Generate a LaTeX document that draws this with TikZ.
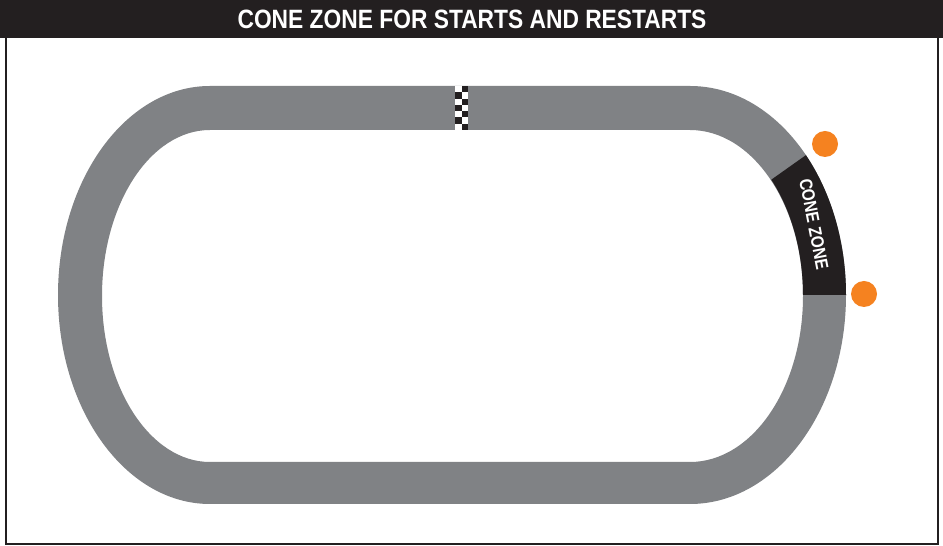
\documentclass[tikz,border=0pt]{standalone}
\usepackage{fontspec}
\setmainfont{Liberation Sans}
\newfontfamily\condfont[FakeStretch=0.86]{Liberation Sans}
\usetikzlibrary{calc}
\definecolor{trackgray}{HTML}{808285}
\definecolor{inkblack}{HTML}{231F20}
\definecolor{coneorange}{HTML}{F58220}
\tikzset{
  framestyle/.style={draw=inkblack,line width=2pt},
  conedot/.style={circle,fill=coneorange,minimum size=26pt,inner sep=0pt},
  titletext/.style={text=white,font=\condfont\bfseries\fontsize{26.5}{28}\selectfont,inner sep=0pt},
  zonetext/.style={text=white,font=\condfont\bfseries\fontsize{18}{20}\selectfont,inner sep=0pt},
  chk/.style={fill=inkblack}
}
\begin{document}
\begin{tikzpicture}[x=1pt,y=1pt]
\useasboundingbox (0,0) rectangle (943,546);
\fill[white] (0,0) rectangle (943,546);
% frame
\draw[framestyle] (5.5,508) -- (5.5,1.5) -- (938,1.5) -- (938,508);
% title bar
\fill[inkblack] (0,508) rectangle (943,546);
\node[titletext] (title) at (472,526.5) {CONE ZONE FOR STARTS AND RESTARTS};
% track
\fill[trackgray,even odd rule]
  (210,460) -- (690,460) arc[start angle=90,end angle=-90,x radius=156,y radius=209]
  -- (210,42) arc[start angle=270,end angle=90,x radius=152,y radius=209] -- cycle
  (210,416) -- (690,416) arc[start angle=90,end angle=-90,x radius=113,y radius=166]
  -- (210,84) arc[start angle=270,end angle=90,x radius=108,y radius=166] -- cycle;
% cone zone segment
\coordinate (cc) at (690,251);
\fill[inkblack] (846,251) arc[start angle=0,end angle=42,x radius=156,y radius=209]
  -- ($(cc)+(44:113 and 166)$) arc[start angle=44,end angle=0,x radius=113,y radius=166] -- cycle;
\node[zonetext,rotate=-79] (zone) at (814,322) {CONE ZONE};
% cones
\node[conedot] (cone1) at (825,402) {};
\node[conedot] (cone2) at (864,252) {};
% checkered flag
\fill[white] (455,416) rectangle (468,460);
\foreach \i in {0,...,6}{
  \pgfmathsetmacro{\yy}{460-\i*44/7}
  \pgfmathsetmacro{\yb}{460-(\i+1)*44/7}
  \ifodd\i
    \fill[chk] (455,\yb) rectangle (461.5,\yy);
  \else
    \fill[chk] (461.5,\yb) rectangle (468,\yy);
  \fi
}
\end{tikzpicture}
\end{document}
